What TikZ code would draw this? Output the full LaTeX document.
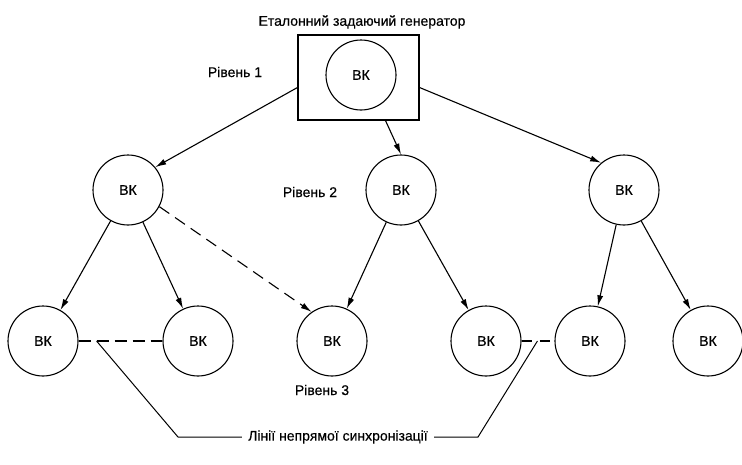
\documentclass[tikz,border=0pt]{standalone}
\usepackage{fontspec}
\setmainfont{Liberation Sans}
\newfontfamily\diagfont[FakeBold=0.4]{Liberation Sans}
\usetikzlibrary{arrows.meta,calc}
\begin{document}
\begin{tikzpicture}[x=1pt,y=-1pt,
  txt/.style={font=\diagfont\fontsize{14}{16}\selectfont},
  vk/.style={circle,draw,line width=1.1pt,minimum size=70pt,inner sep=0pt,txt},
  lbl/.style={inner sep=0pt,txt},
  link/.style={line width=1.1pt,-{Latex[length=11pt,width=6pt]}},
  synclink/.style={link,dash pattern=on 12pt off 7pt},
  peer/.style={line width=1.1pt,dash pattern=on 12pt off 6pt},
  leader/.style={line width=1pt}]
\useasboundingbox (0,0) rectangle (742,464);

% reference generator
\node[lbl] (title) at (362,22) {Еталонний задаючий генератор};
\node[draw,line width=1.1pt,minimum width=121pt,minimum height=85pt] (gen) at (358.5,77.5) {};
\node[vk] (top) at (361,75) {ВК};

% level 2
\node[vk] (l2a) at (128,190) {ВК};
\node[vk] (l2b) at (401,190) {ВК};
\node[vk] (l2c) at (624,190) {ВК};

% level 3
\node[vk] (l3a) at (43,341) {ВК};
\node[vk] (l3b) at (198,341) {ВК};
\node[vk] (l3c) at (332,341) {ВК};
\node[vk] (l3d) at (486,341) {ВК};
\node[vk] (l3e) at (590,341) {ВК};
\node[vk] (l3f) at (708,341) {ВК};

% level captions
\node[lbl] (lev1) at (235,72) {Рівень 1};
\node[lbl] (lev2) at (310,192) {Рівень 2};
\node[lbl] (lev3) at (322,390) {Рівень 3};

% distribution from the generator
\draw[link] ($(gen.west)+(0,10)$) -- (l2a.40);
\draw[link] ($(gen.south)+(27,0)$) -- (l2b.north);
\draw[link] ($(gen.east)+(0,10)$) -- (l2c.130);

% level 2 to level 3
\draw[link] (l2a) -- (l3a);
\draw[link] (l2a) -- (l3b);
\draw[synclink] (l2a.-28) -- (l3c.125);
\draw[link] (l2b) -- (l3c);
\draw[link] (l2b) -- (l3d);
\draw[link] (l2c) -- (l3e);
\draw[link] (l2c) -- (l3f);

% indirect synchronisation between neighbours
\draw[peer] (l3a) -- (l3b);
\draw[line width=1.1pt,dash pattern=on 10pt off 8pt] (l3d) -- (l3e);

% caption with leaders
\node[lbl] (sync) at (338,437) {Лінії непрямої синхронізації};
\coordinate (sa) at ($(l3a.east)+(18,0)$);
\coordinate (sb) at ($(l3e.west)+(-17,0)$);
\coordinate (ka) at (178,437);
\coordinate (kb) at (478,437);
\draw[leader] (sa) -- (ka) -- ([xshift=-6pt]sync.west);
\draw[leader] (sb) -- (kb) -- ([xshift=6pt]sync.east);
\end{tikzpicture}
\end{document}
